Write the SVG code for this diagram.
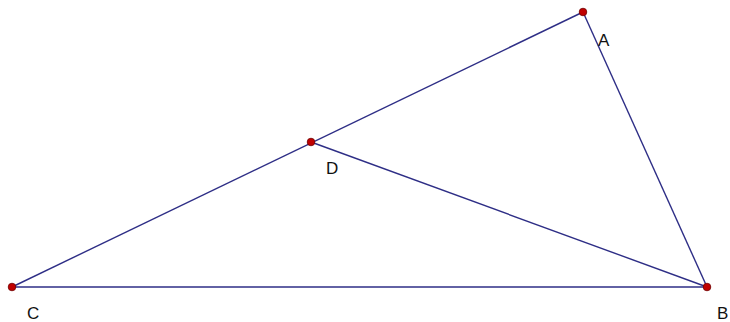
<svg xmlns="http://www.w3.org/2000/svg" width="730" height="322" viewBox="0 0 730 322">
<style>
.seg{stroke:#2e2e86;stroke-width:1.4;fill:none}
.pt{fill:#c00000;stroke:#700000;stroke-width:0.8}
.lbl{font-family:"Liberation Sans",Arial,sans-serif;font-size:17px;fill:#111}
</style>
<rect width="730" height="322" fill="#ffffff"/>
<g id="connectors">
<line class="seg" x1="12" y1="287" x2="583" y2="12"/>
<line class="seg" x1="583" y1="12" x2="707" y2="287"/>
<line class="seg" x1="12" y1="287" x2="707" y2="287"/>
<line class="seg" x1="311" y1="142" x2="707" y2="287"/>
</g>
<g id="A"><circle class="pt" cx="583" cy="12" r="3.8"/><text class="lbl" x="598" y="46">A</text></g>
<g id="D"><circle class="pt" cx="311" cy="142" r="3.8"/><text class="lbl" x="326" y="174">D</text></g>
<g id="C"><circle class="pt" cx="12" cy="287" r="3.8"/><text class="lbl" x="27" y="319">C</text></g>
<g id="B"><circle class="pt" cx="707" cy="287" r="3.8"/><text class="lbl" x="717" y="319">B</text></g>
</svg>
